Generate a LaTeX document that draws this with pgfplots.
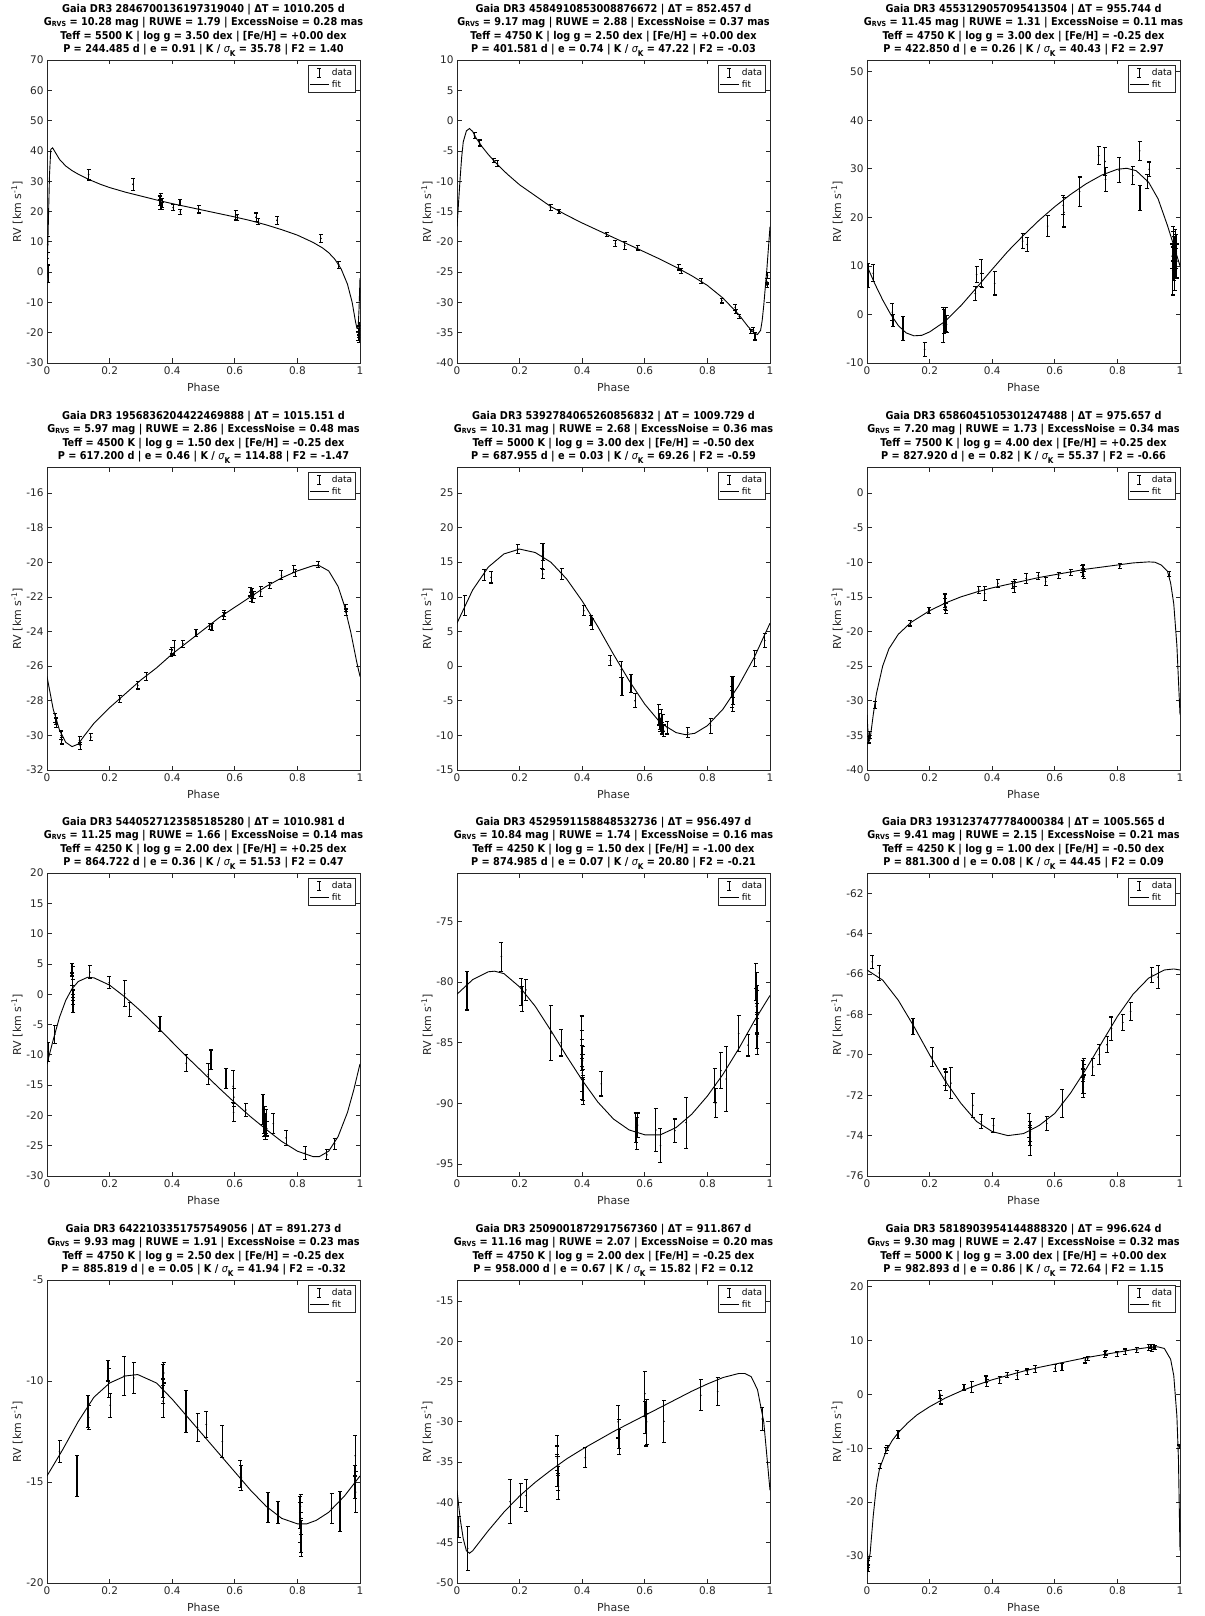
\documentclass[border=0pt]{standalone}
\usepackage{fontspec}
\setmainfont{DejaVu Sans}
\newfontfamily\condfont{DejaVu Sans Condensed}
\usepackage{pgfplots}
\pgfplotsset{compat=1.18}
\definecolor{axgray}{gray}{0.15}
\newcommand\rvs{\raisebox{-0.1ex}{\fontsize{7}{7}\selectfont RVS}}
\newcommand\sigk{{\mdseries\itshape σ}\raisebox{-0.7ex}{\fontsize{8}{8}\selectfont K}}
\pgfplotsset{
 rv/.style={
  scale only axis, width=313pt, height=303pt, anchor=north west,
  xmin=0, xmax=1, xtick={0,0.2,0.4,0.6,0.8,1}, xticklabels={0,0.2,0.4,0.6,0.8,1},
  /pgf/number format/assume math mode=true,
  tick label style={font=\fontsize{10.5}{12}\selectfont, color=axgray},
  axis line style={axgray, line width=0.7pt},
  tick style={axgray, line width=0.7pt}, major tick length=4.5pt,
  xlabel={Phase}, ylabel={RV [km s\textsuperscript{-1}]},
  label style={font=\fontsize{11}{13}\selectfont, color=axgray},
  xlabel style={at={(axis description cs:0.5,-0.079)}, anchor=center},
  ylabel style={at={(axis description cs:-0.096,0.5)}, anchor=center},
  title style={at={(0.5,1)}, anchor=south, yshift=-3pt, inner sep=0pt, align=center,
    font=\condfont\bfseries\fontsize{10.8}{13.4}\selectfont},
  legend style={at={(1,1)}, anchor=north east, xshift=-4pt, yshift=-5pt,
    font=\fontsize{9}{10}\selectfont, draw=axgray, line width=0.8pt, inner sep=1.5pt, row sep=-1pt},
  legend cell align=left,
 },
 rvdata/.style={black, only marks, mark=*, mark size=0.6pt, forget plot,
  error bars/.cd, y dir=both, y explicit,
  error bar style={line width=1.1pt, black},
  error mark options={rotate=90, mark size=2pt, line width=1.1pt, black}},
 rvfit/.style={black, line width=0.9pt, no marks, forget plot},
}
\newcommand\rvlegend{%
 \addlegendimage{legend image code/.code={%
   \draw[black,line width=1.1pt] (9pt,-4.5pt)--(9pt,4.5pt) (7pt,4.5pt)--(11pt,4.5pt) (7pt,-4.5pt)--(11pt,-4.5pt);}}
 \addlegendentry{data}
 \addlegendimage{legend image code/.code={\draw[black,line width=0.9pt](0pt,0pt)--(19pt,0pt);}}
 \addlegendentry{fit}}
\begin{document}
\begin{tikzpicture}
\path[use as bounding box] (0pt,0pt) rectangle (1204pt,-1616pt);
% ---------- Panel 1
\begin{axis}[rv, at={(47pt,-60pt)}, ymin=-30, ymax=70, ytick={-30,-20,-10,0,10,20,30,40,50,60,70},
 title={Gaia DR3 2846700136197319040 | ΔT = 1010.205 d\\G\rvs{} = 10.28 mag | RUWE = 1.79 | ExcessNoise = 0.28 mas\\Teff = 5500 K | log g = 3.50 dex | [Fe/H] = +0.00 dex\\P = 244.485 d | e = 0.91 | K / \sigk{} = 35.78 | F2 = 1.40}]
\addplot[rvdata] table[x index=0, y index=1, y error index=2, row sep=\\] {
0.002 9.0 2.6\\ 0.003 4.5 2.0\\ 0.004 -0.5 2.8\\ 0.133 32.2 1.8\\ 0.275 29.0 2.0\\
0.360 23.5 1.6\\ 0.362 22.3 1.5\\ 0.364 24.2 1.8\\ 0.366 21.8 1.2\\ 0.368 22.8 1.5\\
0.403 21.3 1.0\\ 0.425 23.1 1.0\\ 0.426 19.9 0.9\\ 0.485 20.8 1.3\\ 0.603 18.7 1.5\\
0.608 17.9 1.0\\ 0.668 18.1 1.4\\ 0.675 16.7 1.1\\ 0.735 17.1 1.3\\ 0.875 11.1 1.4\\
0.932 2.4 1.1\\ 0.994 -21.0 1.5\\ 0.996 -20.0 1.5\\ 0.997 -22.0 1.2\\ 0.998 -19.2 1.4\\ 0.999 -17.6 1.0\\
};
\addplot[rvfit] coordinates {(0,-2) (0.004,15) (0.008,32) (0.012,40.5) (0.018,41) (0.025,39.8) (0.04,37.2) (0.06,35) (0.08,33.5) (0.1,32.3) (0.133,30.6) (0.17,29) (0.2,27.9) (0.25,26.4) (0.3,25.1) (0.35,23.8) (0.4,22.6) (0.45,21.5) (0.5,20.4) (0.55,19.3) (0.6,18.2) (0.65,17) (0.7,15.6) (0.75,14) (0.8,12.2) (0.85,9.8) (0.88,8) (0.9,6.4) (0.92,4.2) (0.94,1) (0.96,-4) (0.975,-10) (0.985,-16) (0.99,-18.5) (0.994,-18.5) (0.997,-12) (1.0,-2)};
\rvlegend
\end{axis}
% ---------- Panel 2
\begin{axis}[rv, at={(457pt,-60pt)}, ymin=-40, ymax=10, ytick={-40,-35,-30,-25,-20,-15,-10,-5,0,5,10},
 title={Gaia DR3 4584910853008876672 | ΔT = 852.457 d\\G\rvs{} = 9.17 mag | RUWE = 2.88 | ExcessNoise = 0.37 mas\\Teff = 4750 K | log g = 2.50 dex | [Fe/H] = +0.00 dex\\P = 401.581 d | e = 0.74 | K / \sigk{} = 47.22 | F2 = -0.03}]
\addplot[rvdata] table[x index=0, y index=1, y error index=2, row sep=\\] {
0.056 -2.5 0.5\\ 0.072 -3.7 0.5\\ 0.117 -6.6 0.35\\ 0.129 -7.1 0.45\\ 0.299 -14.3 0.5\\
0.326 -15.0 0.4\\ 0.478 -18.8 0.35\\ 0.506 -20.3 0.5\\ 0.536 -20.6 0.6\\ 0.577 -21.0 0.35\\
0.708 -24.2 0.45\\ 0.716 -24.8 0.4\\ 0.781 -26.5 0.4\\ 0.846 -29.7 0.4\\ 0.889 -30.8 0.5\\
0.891 -31.5 0.4\\ 0.902 -32.3 0.35\\ 0.939 -34.8 0.4\\ 0.947 -34.6 0.5\\ 0.952 -35.6 0.6\\
0.990 -26.6 0.5\\ 0.991 -27.2 0.4\\ 0.992 -25.6 0.5\\
};
\addplot[rvfit] coordinates {(0,-17.5) (0.005,-13.5) (0.01,-9.5) (0.015,-6) (0.02,-3.5) (0.03,-1.7) (0.04,-1.3) (0.05,-1.8) (0.06,-2.8) (0.08,-4.3) (0.1,-5.6) (0.13,-7.3) (0.16,-8.8) (0.2,-10.6) (0.25,-12.4) (0.3,-14.2) (0.35,-15.6) (0.4,-16.9) (0.45,-18.1) (0.5,-19.3) (0.55,-20.5) (0.6,-21.7) (0.65,-22.9) (0.7,-24.2) (0.75,-25.6) (0.8,-27.2) (0.85,-29.3) (0.9,-32.0) (0.93,-34.0) (0.95,-35.1) (0.96,-35.3) (0.97,-34.6) (0.975,-33) (0.98,-30.5) (0.99,-24.5) (1.0,-17.5)};
\rvlegend
\end{axis}
% ---------- Panel 3
\begin{axis}[rv, at={(867pt,-60pt)}, ymin=-10, ymax=52.4, ytick={-10,0,10,20,30,40,50},
 title={Gaia DR3 4553129057095413504 | ΔT = 955.744 d\\G\rvs{} = 11.45 mag | RUWE = 1.31 | ExcessNoise = 0.11 mas\\Teff = 4750 K | log g = 3.00 dex | [Fe/H] = -0.25 dex\\P = 422.850 d | e = 0.26 | K / \sigk{} = 40.43 | F2 = 2.97}]
\addplot[rvdata] table[x index=0, y index=1, y error index=2, row sep=\\] {
0.003 8.0 2.5\\ 0.020 8.5 1.7\\ 0.081 0.5 1.8\\ 0.083 -1.2 1.2\\ 0.115 -2.9 2.4\\ 0.184 -7.2 1.4\\
0.244 -2.2 3.6\\ 0.247 -1.5 2.5\\ 0.250 -0.3 1.8\\ 0.252 -1.0 2.5\\ 0.254 -2.0 1.7\\
0.346 4.3 1.5\\ 0.350 8.2 1.6\\ 0.365 8.5 2.8\\ 0.367 7.0 1.4\\ 0.408 6.4 2.4\\ 0.497 15.1 1.5\\
0.512 14.4 1.5\\ 0.577 18.2 2.2\\ 0.627 22.5 2.0\\ 0.629 21.0 3.0\\ 0.679 25.3 3.0\\ 0.740 32.7 1.9\\
0.760 31.5 2.8\\ 0.762 27.8 2.4\\ 0.806 29.7 2.6\\ 0.849 28.6 1.8\\ 0.871 33.7 2.0\\ 0.872 24.0 2.6\\
0.896 27.4 1.5\\ 0.902 29.9 1.5\\ 0.975 12.0 2.5\\ 0.977 9.0 5.0\\ 0.978 16.0 2.2\\ 0.979 14.0 3.0\\
0.980 11.0 4.0\\ 0.982 12.5 3.5\\ 0.983 8.0 3.0\\ 0.985 15.0 2.5\\ 0.986 10.5 3.0\\ 0.988 13.0 3.5\\ 0.990 11.0 3.5\\
};
\addplot[rvfit] coordinates {(0,10) (0.025,6.3) (0.05,3) (0.075,0.1) (0.1,-2.3) (0.125,-3.8) (0.15,-4.4) (0.175,-4.3) (0.2,-3.6) (0.25,-1.4) (0.3,1.8) (0.35,5.5) (0.4,9.3) (0.45,13) (0.5,16.3) (0.55,19.4) (0.6,22.2) (0.65,24.7) (0.7,26.9) (0.75,28.7) (0.8,29.9) (0.83,30.1) (0.86,29.6) (0.9,27.2) (0.93,23.8) (0.96,18.3) (0.98,14.2) (1.0,10)};
\rvlegend
\end{axis}
% ---------- Panel 4
\begin{axis}[rv, at={(47pt,-467pt)}, ymin=-32, ymax=-14.5, ytick={-32,-30,-28,-26,-24,-22,-20,-18,-16},
 title={Gaia DR3 1956836204422469888 | ΔT = 1015.151 d\\G\rvs{} = 5.97 mag | RUWE = 2.86 | ExcessNoise = 0.48 mas\\Teff = 4500 K | log g = 1.50 dex | [Fe/H] = -0.25 dex\\P = 617.200 d | e = 0.46 | K / \sigk{} = 114.88 | F2 = -1.47}]
\addplot[rvdata] table[x index=0, y index=1, y error index=2, row sep=\\] {
0.027 -29.0 0.25\\ 0.029 -29.3 0.25\\ 0.030 -29.15 0.2\\ 0.045 -30.0 0.25\\ 0.047 -30.3 0.2\\
0.104 -30.3 0.25\\ 0.106 -30.6 0.2\\ 0.140 -30.1 0.2\\ 0.233 -27.9 0.2\\ 0.290 -27.1 0.22\\
0.317 -26.6 0.22\\ 0.397 -25.25 0.22\\ 0.399 -25.1 0.2\\ 0.407 -24.95 0.42\\ 0.434 -24.7 0.2\\
0.476 -24.1 0.2\\ 0.520 -23.7 0.18\\ 0.527 -23.75 0.2\\ 0.565 -23.1 0.2\\ 0.567 -22.95 0.18\\
0.650 -21.7 0.25\\ 0.652 -22.0 0.25\\ 0.655 -21.8 0.3\\ 0.657 -22.1 0.25\\ 0.660 -21.9 0.2\\
0.683 -21.7 0.28\\ 0.712 -21.35 0.18\\ 0.749 -20.75 0.25\\ 0.788 -20.4 0.2\\ 0.793 -20.6 0.2\\
0.866 -20.15 0.18\\ 0.954 -22.65 0.22\\ 0.956 -22.9 0.2\\
};
\addplot[rvfit] coordinates {(0,-26.6) (0.02,-28.5) (0.04,-29.7) (0.06,-30.4) (0.08,-30.65) (0.1,-30.5) (0.12,-30.0) (0.15,-29.3) (0.2,-28.4) (0.25,-27.6) (0.3,-26.8) (0.35,-26.1) (0.4,-25.3) (0.45,-24.6) (0.5,-23.9) (0.55,-23.2) (0.6,-22.6) (0.65,-22.0) (0.7,-21.4) (0.75,-20.9) (0.8,-20.5) (0.85,-20.2) (0.87,-20.2) (0.9,-20.5) (0.93,-21.4) (0.95,-22.5) (0.97,-24.0) (0.99,-25.8) (1.0,-26.6)};
\rvlegend
\end{axis}
% ---------- Panel 5
\begin{axis}[rv, at={(457pt,-467pt)}, ymin=-15, ymax=28.75, ytick={-15,-10,-5,0,5,10,15,20,25},
 title={Gaia DR3 5392784065260856832 | ΔT = 1009.729 d\\G\rvs{} = 10.31 mag | RUWE = 2.68 | ExcessNoise = 0.36 mas\\Teff = 5000 K | log g = 3.00 dex | [Fe/H] = -0.50 dex\\P = 687.955 d | e = 0.03 | K / \sigk{} = 69.26 | F2 = -0.59}]
\addplot[rvdata] table[x index=0, y index=1, y error index=2, row sep=\\] {
0.025 8.75 1.4\\ 0.087 13.2 0.8\\ 0.109 12.8 0.8\\ 0.194 16.9 0.7\\ 0.272 15.9 1.8\\ 0.274 13.3 0.6\\
0.276 16.5 1.2\\ 0.335 13.3 0.85\\ 0.405 8.0 0.7\\ 0.428 6.6 0.7\\ 0.432 6.1 0.8\\ 0.490 0.8 0.7\\
0.525 -0.5 1.2\\ 0.527 -3.0 1.3\\ 0.556 -2.5 1.3\\ 0.569 -5.0 1.0\\ 0.645 -7.0 1.5\\ 0.647 -8.0 1.2\\
0.650 -8.5 1.0\\ 0.652 -7.5 1.3\\ 0.655 -9.0 0.8\\ 0.657 -8.2 1.2\\ 0.660 -9.3 0.8\\ 0.672 -8.9 0.9\\
0.737 -9.6 0.7\\ 0.810 -8.6 1.1\\ 0.878 -3.0 1.5\\ 0.879 -2.5 1.0\\ 0.880 -4.5 1.5\\ 0.881 -5.5 1.0\\
0.882 -3.5 2.0\\ 0.951 1.1 1.1\\ 0.983 3.7 1.0\\
};
\addplot[rvfit] coordinates {(0,6.2) (0.05,11) (0.1,14.3) (0.15,16.2) (0.2,16.9) (0.25,16.4) (0.3,15) (0.35,12.6) (0.4,9.4) (0.45,5.7) (0.5,1.7) (0.55,-2.1) (0.6,-5.5) (0.65,-8.2) (0.7,-9.6) (0.73,-9.9) (0.76,-9.7) (0.8,-8.6) (0.85,-6.2) (0.9,-2.8) (0.95,1.3) (1.0,6.2)};
\rvlegend
\end{axis}
% ---------- Panel 6
\begin{axis}[rv, at={(867pt,-467pt)}, ymin=-40, ymax=3.75, ytick={-40,-35,-30,-25,-20,-15,-10,-5,0},
 title={Gaia DR3 6586045105301247488 | ΔT = 975.657 d\\G\rvs{} = 7.20 mag | RUWE = 1.73 | ExcessNoise = 0.34 mas\\Teff = 7500 K | log g = 4.00 dex | [Fe/H] = +0.25 dex\\P = 827.920 d | e = 0.82 | K / \sigk{} = 55.37 | F2 = -0.66}]
\addplot[rvdata] table[x index=0, y index=1, y error index=2, row sep=\\] {
0.005 -35.6 0.5\\ 0.008 -35.0 0.5\\ 0.026 -30.6 0.5\\ 0.138 -18.8 0.4\\ 0.198 -17.0 0.45\\
0.248 -15.2 0.7\\ 0.249 -15.6 1.0\\ 0.250 -16.0 0.8\\ 0.251 -16.7 0.7\\ 0.252 -16.4 0.6\\
0.357 -14.0 0.55\\ 0.376 -14.5 1.0\\ 0.418 -13.05 0.6\\ 0.465 -13.3 0.5\\ 0.470 -13.6 0.8\\
0.472 -13.0 0.5\\ 0.509 -12.35 0.75\\ 0.547 -11.95 0.5\\ 0.571 -12.8 0.6\\ 0.612 -11.9 0.4\\
0.651 -11.5 0.4\\ 0.688 -11.0 0.5\\ 0.690 -11.5 0.6\\ 0.692 -11.8 0.5\\ 0.691 -10.8 0.4\\
0.808 -10.55 0.4\\ 0.966 -11.7 0.4\\
};
\addplot[rvfit] coordinates {(0,-32) (0.005,-36) (0.01,-35.5) (0.02,-32) (0.03,-29) (0.05,-25) (0.07,-22.5) (0.1,-20.4) (0.14,-18.7) (0.2,-17.0) (0.25,-15.9) (0.3,-15.0) (0.35,-14.3) (0.4,-13.7) (0.45,-13.2) (0.5,-12.7) (0.55,-12.2) (0.6,-11.8) (0.65,-11.4) (0.7,-11.0) (0.75,-10.7) (0.8,-10.4) (0.85,-10.1) (0.9,-9.95) (0.92,-10.0) (0.94,-10.4) (0.96,-11.3) (0.97,-13) (0.98,-16) (0.99,-22) (1.0,-32)};
\rvlegend
\end{axis}
% ---------- Panel 7
\begin{axis}[rv, at={(47pt,-873pt)}, ymin=-30, ymax=20, ytick={-30,-25,-20,-15,-10,-5,0,5,10,15,20},
 title={Gaia DR3 5440527123585185280 | ΔT = 1010.981 d\\G\rvs{} = 11.25 mag | RUWE = 1.66 | ExcessNoise = 0.14 mas\\Teff = 4250 K | log g = 2.00 dex | [Fe/H] = +0.25 dex\\P = 864.722 d | e = 0.36 | K / \sigk{} = 51.53 | F2 = 0.47}]
\addplot[rvdata] table[x index=0, y index=1, y error index=2, row sep=\\] {
0.004 -9.5 1.6\\ 0.025 -6.6 1.5\\ 0.080 4.0 1.0\\ 0.081 2.5 1.0\\ 0.082 1.0 1.5\\ 0.082 3.0 1.5\\
0.083 -0.5 1.2\\ 0.083 -1.5 1.5\\ 0.084 -2.0 1.0\\ 0.137 3.65 1.05\\ 0.199 1.9 0.95\\ 0.248 0.1 2.2\\
0.264 -2.55 1.15\\ 0.361 -4.95 1.25\\ 0.445 -11.4 1.4\\ 0.515 -13.2 1.7\\ 0.524 -10.8 1.6\\
0.572 -13.9 1.6\\ 0.595 -15.2 2.6\\ 0.596 -19.5 1.5\\ 0.597 -17.0 1.5\\ 0.635 -19.1 1.1\\
0.690 -19.0 2.5\\ 0.692 -21.0 2.0\\ 0.694 -22.0 1.5\\ 0.695 -20.5 2.0\\ 0.697 -23.0 1.0\\
0.698 -21.5 1.8\\ 0.699 -22.5 1.5\\ 0.700 -21.0 2.0\\ 0.702 -22.2 1.2\\ 0.723 -21.35 1.6\\
0.764 -23.7 1.2\\ 0.825 -26.2 1.1\\ 0.894 -26.5 0.85\\ 0.919 -24.7 0.95\\
};
\addplot[rvfit] coordinates {(0,-11.5) (0.02,-7.5) (0.04,-3.8) (0.06,-1) (0.08,0.9) (0.1,2.1) (0.13,2.8) (0.15,2.7) (0.2,1.5) (0.25,-0.5) (0.3,-2.8) (0.35,-5.3) (0.4,-7.9) (0.45,-10.5) (0.5,-13.0) (0.55,-15.5) (0.6,-17.9) (0.65,-20.2) (0.7,-22.3) (0.75,-24.3) (0.8,-25.9) (0.85,-26.8) (0.87,-26.8) (0.9,-25.9) (0.93,-23.5) (0.96,-19.5) (0.98,-15.8) (1.0,-11.5)};
\rvlegend
\end{axis}
% ---------- Panel 8
\begin{axis}[rv, at={(457pt,-873pt)}, ymin=-96, ymax=-71, ytick={-95,-90,-85,-80,-75},
 title={Gaia DR3 4529591158848532736 | ΔT = 956.497 d\\G\rvs{} = 10.84 mag | RUWE = 1.74 | ExcessNoise = 0.16 mas\\Teff = 4250 K | log g = 1.50 dex | [Fe/H] = -1.00 dex\\P = 874.985 d | e = 0.07 | K / \sigk{} = 20.80 | F2 = -0.21}]
\addplot[rvdata] table[x index=0, y index=1, y error index=2, row sep=\\] {
0.032 -80.7 1.6\\ 0.142 -77.9 1.2\\ 0.206 -80.8 1.1\\ 0.208 -81.4 1.0\\ 0.220 -80.65 0.85\\
0.300 -84.2 2.3\\ 0.333 -85.0 1.1\\ 0.398 -84.0 1.2\\ 0.399 -85.5 1.5\\ 0.399 -86.0 1.3\\
0.400 -87.5 1.5\\ 0.400 -88.0 1.7\\ 0.401 -88.5 1.3\\ 0.401 -86.5 1.2\\ 0.402 -87.0 1.0\\
0.403 -89.0 1.1\\ 0.461 -88.4 1.0\\ 0.571 -92.0 1.2\\ 0.574 -92.5 1.3\\ 0.577 -91.8 1.0\\
0.635 -92.2 1.8\\ 0.650 -93.5 1.4\\ 0.696 -92.25 0.95\\ 0.732 -91.6 2.1\\ 0.824 -88.5 1.4\\
0.826 -90.0 1.2\\ 0.843 -87.3 1.5\\ 0.860 -88.0 2.7\\ 0.900 -84.25 1.5\\ 0.930 -85.2 0.9\\
0.955 -80.0 1.5\\ 0.956 -82.0 1.5\\ 0.957 -83.0 1.2\\ 0.957 -80.5 1.3\\ 0.958 -84.0 1.5\\
0.959 -81.5 1.2\\ 0.960 -82.5 1.8\\ 0.960 -84.5 1.5\\
};
\addplot[rvfit] coordinates {(0,-81) (0.05,-79.8) (0.1,-79.15) (0.12,-79.1) (0.15,-79.3) (0.2,-80.4) (0.25,-82) (0.3,-84) (0.35,-86.1) (0.4,-88.1) (0.45,-89.9) (0.5,-91.3) (0.55,-92.2) (0.6,-92.6) (0.65,-92.6) (0.7,-92.0) (0.75,-90.9) (0.8,-89.4) (0.85,-87.6) (0.9,-85.5) (0.95,-83.2) (1.0,-81.1)};
\rvlegend
\end{axis}
% ---------- Panel 9
\begin{axis}[rv, at={(867pt,-873pt)}, ymin=-76, ymax=-61, ytick={-76,-74,-72,-70,-68,-66,-64,-62},
 title={Gaia DR3 1931237477784000384 | ΔT = 1005.565 d\\G\rvs{} = 9.41 mag | RUWE = 2.15 | ExcessNoise = 0.21 mas\\Teff = 4250 K | log g = 1.00 dex | [Fe/H] = -0.50 dex\\P = 881.300 d | e = 0.08 | K / \sigk{} = 44.45 | F2 = 0.09}]
\addplot[rvdata] table[x index=0, y index=1, y error index=2, row sep=\\] {
0.017 -65.4 0.33\\ 0.039 -65.95 0.35\\ 0.147 -68.6 0.4\\ 0.208 -70.1 0.47\\ 0.250 -71.1 0.4\\
0.252 -71.3 0.45\\ 0.268 -71.4 0.75\\ 0.338 -72.5 0.6\\ 0.365 -73.3 0.35\\ 0.404 -73.5 0.35\\
0.519 -73.5 0.6\\ 0.520 -74.0 0.5\\ 0.521 -74.3 0.7\\ 0.522 -73.8 0.5\\ 0.574 -73.4 0.35\\
0.624 -72.4 0.7\\ 0.689 -70.8 0.5\\ 0.690 -71.3 0.6\\ 0.691 -71.6 0.5\\ 0.692 -70.6 0.4\\
0.693 -71.2 0.7\\ 0.721 -70.6 0.43\\ 0.742 -70.0 0.5\\ 0.767 -69.5 0.4\\ 0.781 -68.7 0.57\\
0.817 -68.4 0.4\\ 0.842 -67.85 0.43\\ 0.910 -66.05 0.37\\ 0.930 -66.15 0.55\\
};
\addplot[rvfit] coordinates {(0,-65.8) (0.05,-66.3) (0.1,-67.3) (0.15,-68.6) (0.2,-70.0) (0.25,-71.3) (0.3,-72.4) (0.35,-73.3) (0.4,-73.8) (0.45,-74.0) (0.5,-73.9) (0.55,-73.5) (0.6,-72.9) (0.65,-71.9) (0.7,-70.7) (0.75,-69.4) (0.8,-68.1) (0.85,-67.0) (0.9,-66.2) (0.95,-65.8) (0.98,-65.75) (1.0,-65.8)};
\rvlegend
\end{axis}
% ---------- Panel 10
\begin{axis}[rv, at={(47pt,-1280pt)}, ymin=-20, ymax=-5, ytick={-20,-15,-10,-5},
 title={Gaia DR3 6422103351757549056 | ΔT = 891.273 d\\G\rvs{} = 9.93 mag | RUWE = 1.91 | ExcessNoise = 0.23 mas\\Teff = 4750 K | log g = 2.50 dex | [Fe/H] = -0.25 dex\\P = 885.819 d | e = 0.05 | K / \sigk{} = 41.94 | F2 = -0.32}]
\addplot[rvdata] table[x index=0, y index=1, y error index=2, row sep=\\] {
0.040 -13.5 0.55\\ 0.096 -14.7 1.0\\ 0.131 -11.5 0.8\\ 0.133 -11.8 0.6\\ 0.195 -9.5 0.5\\
0.197 -10.1 0.7\\ 0.202 -11.2 0.6\\ 0.247 -9.75 0.95\\ 0.277 -9.85 0.75\\ 0.370 -10.0 0.8\\
0.371 -11.0 0.8\\ 0.372 -10.5 0.6\\ 0.373 -9.6 0.5\\ 0.444 -11.5 1.05\\ 0.481 -12.3 0.7\\
0.509 -12.15 0.65\\ 0.560 -13.0 0.8\\ 0.618 -14.6 0.65\\ 0.621 -14.8 0.6\\ 0.706 -16.25 0.75\\
0.738 -16.5 0.55\\ 0.808 -16.5 0.8\\ 0.809 -17.0 1.0\\ 0.810 -17.5 1.0\\ 0.810 -16.2 0.6\\
0.811 -16.8 0.8\\ 0.812 -17.8 0.9\\ 0.909 -16.3 0.75\\ 0.936 -16.45 1.0\\ 0.984 -15.0 0.8\\
0.985 -13.7 1.0\\ 0.986 -15.5 1.0\\
};
\addplot[rvfit] coordinates {(0,-14.7) (0.05,-13.4) (0.1,-12) (0.15,-10.8) (0.2,-10.1) (0.25,-9.75) (0.29,-9.68) (0.35,-10.1) (0.4,-10.9) (0.45,-11.8) (0.5,-12.7) (0.55,-13.6) (0.6,-14.5) (0.65,-15.4) (0.7,-16.2) (0.75,-16.8) (0.8,-17.07) (0.83,-17.07) (0.86,-16.9) (0.9,-16.5) (0.95,-15.7) (1.0,-14.7)};
\rvlegend
\end{axis}
% ---------- Panel 11
\begin{axis}[rv, at={(457pt,-1280pt)}, ymin=-50, ymax=-12.4, ytick={-50,-45,-40,-35,-30,-25,-20,-15},
 title={Gaia DR3 2509001872917567360 | ΔT = 911.867 d\\G\rvs{} = 11.16 mag | RUWE = 2.07 | ExcessNoise = 0.20 mas\\Teff = 4750 K | log g = 2.00 dex | [Fe/H] = -0.25 dex\\P = 958.000 d | e = 0.67 | K / \sigk{} = 15.82 | F2 = 0.12}]
\addplot[rvdata] table[x index=0, y index=1, y error index=2, row sep=\\] {
0.005 -43.0 1.3\\ 0.034 -45.7 2.75\\ 0.170 -39.9 2.7\\ 0.204 -39.1 1.5\\ 0.221 -39.15 1.95\\
0.320 -33.0 1.3\\ 0.321 -34.5 1.5\\ 0.321 -36.0 2.0\\ 0.322 -35.5 1.2\\ 0.323 -37.0 1.5\\
0.324 -38.0 1.6\\ 0.410 -34.45 1.25\\ 0.515 -30.0 2.0\\ 0.517 -31.5 1.8\\ 0.518 -32.5 1.6\\
0.600 -26.5 2.8\\ 0.602 -29.5 2.0\\ 0.604 -31.0 2.0\\ 0.606 -30.0 2.8\\ 0.661 -29.95 2.6\\
0.779 -26.7 1.9\\ 0.833 -26.25 1.7\\ 0.975 -29.65 1.45\\
};
\addplot[rvfit] coordinates {(0,-38.5) (0.01,-42) (0.02,-44.5) (0.03,-46) (0.04,-46.3) (0.05,-46) (0.07,-45) (0.1,-43.5) (0.15,-41.2) (0.2,-39.2) (0.25,-37.5) (0.3,-36) (0.35,-34.6) (0.4,-33.4) (0.45,-32.3) (0.5,-31.2) (0.55,-30.2) (0.6,-29.2) (0.65,-28.2) (0.7,-27.2) (0.75,-26.2) (0.8,-25.3) (0.85,-24.5) (0.9,-24.0) (0.92,-24.0) (0.94,-24.4) (0.96,-26) (0.98,-30) (1.0,-38.5)};
\rvlegend
\end{axis}
% ---------- Panel 12
\begin{axis}[rv, at={(867pt,-1280pt)}, ymin=-35, ymax=21.2, ytick={-30,-20,-10,0,10,20},
 title={Gaia DR3 5818903954144888320 | ΔT = 996.624 d\\G\rvs{} = 9.30 mag | RUWE = 2.47 | ExcessNoise = 0.32 mas\\Teff = 5000 K | log g = 3.00 dex | [Fe/H] = +0.00 dex\\P = 982.893 d | e = 0.86 | K / \sigk{} = 72.64 | F2 = 1.15}]
\addplot[rvdata] table[x index=0, y index=1, y error index=2, row sep=\\] {
0.002 -31.5 0.6\\ 0.003 -32.3 0.5\\ 0.004 -31.0 0.5\\ 0.042 -13.3 0.4\\ 0.060 -10.4 0.6\\
0.065 -10.0 0.5\\ 0.099 -7.45 0.75\\ 0.233 0.0 0.7\\ 0.235 -1.0 0.8\\ 0.310 1.3 0.5\\
0.335 1.35 0.95\\ 0.380 2.8 0.6\\ 0.382 2.1 0.6\\ 0.424 2.65 0.65\\ 0.448 3.6 0.5\\
0.480 3.55 0.85\\ 0.512 4.2 0.5\\ 0.537 4.7 0.7\\ 0.601 4.85 0.7\\ 0.623 5.05 0.65\\
0.697 6.35 0.55\\ 0.705 6.6 0.4\\ 0.759 7.4 0.6\\ 0.762 7.7 0.4\\ 0.800 7.5 0.5\\
0.825 7.9 0.5\\ 0.862 8.2 0.4\\ 0.900 8.7 0.5\\ 0.905 8.9 0.4\\ 0.910 8.6 0.6\\
0.915 8.8 0.5\\ 0.920 8.7 0.4\\ 0.997 -9.7 0.3\\
};
\addplot[rvfit] coordinates {(0,-29) (0.005,-31) (0.01,-29.5) (0.02,-22.5) (0.03,-17) (0.04,-13.8) (0.06,-10.7) (0.08,-8.6) (0.1,-7.1) (0.13,-5.3) (0.16,-3.8) (0.2,-2.3) (0.25,-0.7) (0.3,0.6) (0.35,1.7) (0.4,2.7) (0.45,3.5) (0.5,4.3) (0.55,5.0) (0.6,5.6) (0.65,6.2) (0.7,6.8) (0.75,7.3) (0.8,7.8) (0.85,8.3) (0.9,8.7) (0.93,8.8) (0.95,8.5) (0.97,6.5) (0.98,3.5) (0.99,-4) (0.995,-12) (1.0,-29)};
\rvlegend
\end{axis}
\end{tikzpicture}
\end{document}
